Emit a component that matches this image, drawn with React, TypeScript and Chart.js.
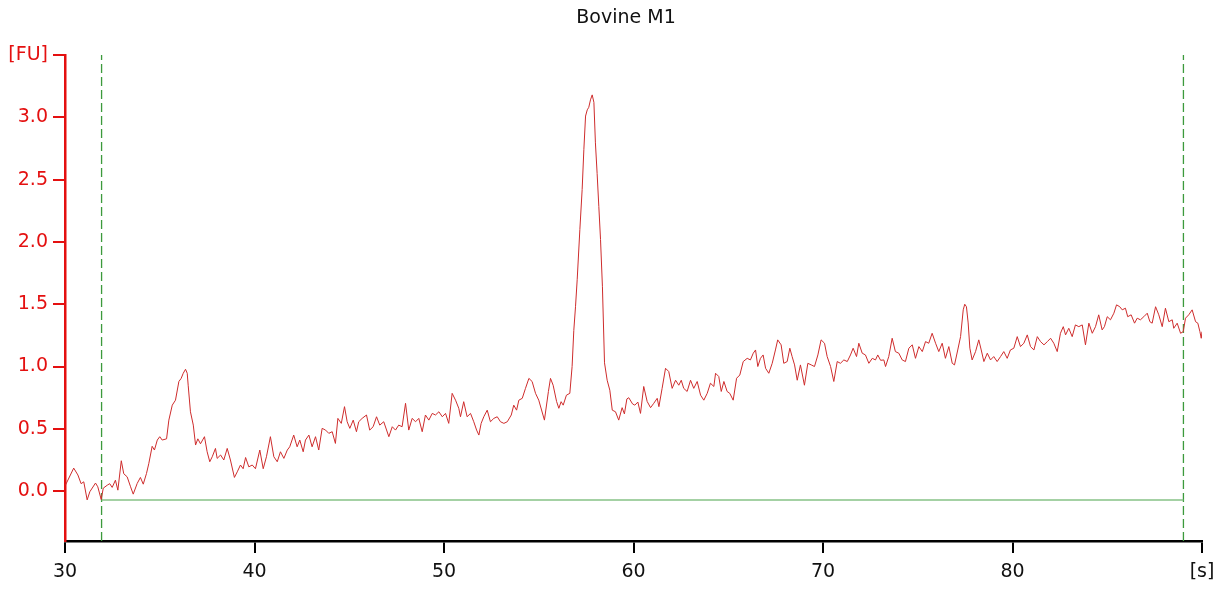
import React, { useEffect, useRef } from "react";
import { Chart, registerables } from "chart.js";

Chart.register(...registerables);

const chartTitle = "Bovine M1";

const timeSec = [
  30.03, 30.46, 30.68, 30.85, 30.99, 31.17, 31.31, 31.61, 31.73, 31.91, 32.02, 32.23, 32.36, 32.49, 32.66, 32.79,
  32.97, 33.1, 33.28, 33.46, 33.6, 33.81, 33.98, 34.13, 34.3, 34.42, 34.6, 34.72, 34.87, 35.0, 35.13, 35.36,
  35.48, 35.66, 35.83, 36.01, 36.13, 36.24, 36.36, 36.45, 36.5, 36.62, 36.77, 36.89, 37.01, 37.15, 37.36, 37.5,
  37.64, 37.77, 37.94, 38.03, 38.21, 38.38, 38.56, 38.73, 38.94, 39.09, 39.26, 39.4, 39.53, 39.7, 39.88, 40.05,
  40.28, 40.46, 40.63, 40.84, 41.02, 41.2, 41.37, 41.55, 41.73, 41.86, 42.07, 42.25, 42.39, 42.57, 42.69, 42.87,
  43.04, 43.22, 43.39, 43.57, 43.75, 43.92, 44.1, 44.27, 44.4, 44.58, 44.75, 44.89, 45.03, 45.21, 45.38, 45.5,
  45.68, 45.91, 46.08, 46.26, 46.44, 46.61, 46.82, 47.09, 47.27, 47.44, 47.61, 47.79, 47.97, 48.14, 48.32, 48.5,
  48.67, 48.85, 49.02, 49.2, 49.38, 49.55, 49.73, 49.91, 50.08, 50.25, 50.43, 50.61, 50.78, 50.87, 51.04, 51.22,
  51.4, 51.57, 51.72, 51.84, 51.96, 52.1, 52.28, 52.45, 52.63, 52.81, 52.98, 53.16, 53.34, 53.55, 53.68, 53.83,
  53.95, 54.13, 54.3, 54.48, 54.65, 54.83, 55.0, 55.3, 55.51, 55.62, 55.76, 55.94, 56.06, 56.18, 56.29, 56.46,
  56.64, 56.76, 56.85, 56.94, 57.03, 57.17, 57.29, 57.38, 57.47, 57.56, 57.64, 57.73, 57.82, 57.91, 57.99, 58.08,
  58.17, 58.26, 58.36, 58.47, 58.61, 58.75, 58.88, 59.05, 59.22, 59.4, 59.52, 59.65, 59.75, 59.95, 60.07, 60.23,
  60.37, 60.54, 60.72, 60.9, 61.07, 61.25, 61.34, 61.51, 61.69, 61.86, 62.04, 62.22, 62.39, 62.52, 62.65, 62.83,
  63.01, 63.18, 63.36, 63.54, 63.71, 63.89, 64.06, 64.24, 64.33, 64.5, 64.63, 64.77, 64.94, 65.08, 65.26, 65.44,
  65.61, 65.79, 66.0, 66.17, 66.32, 66.44, 66.56, 66.7, 66.84, 66.97, 67.14, 67.32, 67.49, 67.61, 67.79, 67.93,
  68.11, 68.25, 68.37, 68.5, 68.64, 68.81, 69.02, 69.2, 69.38, 69.55, 69.73, 69.9, 70.08, 70.22, 70.4, 70.57,
  70.75, 70.92, 71.1, 71.28, 71.45, 71.59, 71.77, 71.89, 72.07, 72.24, 72.42, 72.6, 72.77, 72.89, 73.04, 73.21,
  73.3, 73.47, 73.65, 73.82, 74.0, 74.18, 74.35, 74.53, 74.71, 74.88, 75.06, 75.24, 75.41, 75.58, 75.76, 75.94,
  76.11, 76.29, 76.46, 76.64, 76.82, 76.94, 77.11, 77.26, 77.4, 77.48, 77.57, 77.66, 77.75, 77.87, 78.05, 78.22,
  78.35, 78.49, 78.67, 78.84, 79.01, 79.19, 79.37, 79.54, 79.72, 79.89, 80.07, 80.25, 80.42, 80.6, 80.78, 80.95,
  81.13, 81.31, 81.48, 81.66, 81.84, 82.01, 82.18, 82.36, 82.53, 82.68, 82.8, 82.97, 83.15, 83.32, 83.5, 83.68,
  83.85, 84.03, 84.21, 84.38, 84.55, 84.73, 84.85, 85.0, 85.17, 85.35, 85.49, 85.66, 85.79, 85.96, 86.08, 86.26,
  86.44, 86.58, 86.75, 86.93, 87.11, 87.25, 87.37, 87.55, 87.72, 87.9, 88.07, 88.25, 88.43, 88.51, 88.69, 88.87,
  89.01, 89.13, 89.3, 89.48, 89.66, 89.78, 89.89, 89.96, 90.0,
];

const signalFU = [
  0.05, 0.185, 0.13, 0.06, 0.075, -0.07, -0.005, 0.065, 0.035, -0.067, 0.024, 0.048, 0.06, 0.03, 0.088, 0.008,
  0.244, 0.14, 0.115, 0.035, -0.024, 0.062, 0.11, 0.056, 0.142, 0.22, 0.36, 0.33, 0.41, 0.437, 0.41, 0.42,
  0.57, 0.69, 0.73, 0.88, 0.905, 0.946, 0.978, 0.946, 0.85, 0.637, 0.53, 0.37, 0.42, 0.38, 0.437, 0.316,
  0.236, 0.276, 0.343, 0.263, 0.29, 0.25, 0.343, 0.25, 0.11, 0.155, 0.21, 0.18, 0.27, 0.195, 0.21, 0.18,
  0.33, 0.18, 0.276, 0.437, 0.276, 0.236, 0.316, 0.263, 0.33, 0.356, 0.45, 0.356, 0.41, 0.316, 0.41, 0.45,
  0.356, 0.437, 0.33, 0.504, 0.49, 0.464, 0.477, 0.383, 0.584, 0.544, 0.678, 0.557, 0.504, 0.57, 0.477, 0.557,
  0.584, 0.611, 0.49, 0.517, 0.597, 0.53, 0.557, 0.437, 0.517, 0.49, 0.53, 0.517, 0.705, 0.49, 0.584, 0.557,
  0.584, 0.477, 0.611, 0.57, 0.624, 0.611, 0.637, 0.597, 0.624, 0.544, 0.785, 0.73, 0.665, 0.597, 0.718, 0.597,
  0.624, 0.557, 0.49, 0.45, 0.544, 0.597, 0.65, 0.557, 0.584, 0.597, 0.557, 0.544, 0.557, 0.611, 0.69, 0.65,
  0.73, 0.745, 0.825, 0.905, 0.88, 0.785, 0.73, 0.57, 0.8, 0.905, 0.85, 0.72, 0.665, 0.718, 0.69, 0.77,
  0.785, 1.0, 1.29, 1.48, 1.7, 2.1, 2.42, 2.74, 3.01, 3.06, 3.08, 3.14, 3.18, 3.12, 2.795, 2.55,
  2.285, 2.02, 1.64, 1.03, 0.89, 0.81, 0.65, 0.637, 0.57, 0.67, 0.62, 0.74, 0.75, 0.7, 0.69, 0.715,
  0.624, 0.84, 0.72, 0.67, 0.705, 0.745, 0.678, 0.825, 0.986, 0.96, 0.825, 0.89, 0.85, 0.89, 0.825, 0.8,
  0.89, 0.825, 0.88, 0.77, 0.73, 0.785, 0.866, 0.84, 0.946, 0.92, 0.8, 0.88, 0.8, 0.785, 0.73, 0.906,
  0.932, 1.04, 1.066, 1.053, 1.107, 1.133, 1.0, 1.066, 1.093, 0.986, 0.946, 1.026, 1.133, 1.214, 1.174, 1.026,
  1.04, 1.147, 1.08, 1.013, 0.89, 1.013, 0.85, 1.026, 1.013, 1.0, 1.093, 1.214, 1.187, 1.08, 1.0, 0.88,
  1.04, 1.026, 1.053, 1.04, 1.093, 1.147, 1.08, 1.187, 1.107, 1.093, 1.026, 1.066, 1.053, 1.093, 1.05, 1.053,
  1.0, 1.08, 1.227, 1.12, 1.107, 1.053, 1.04, 1.147, 1.174, 1.066, 1.16, 1.12, 1.2, 1.187, 1.267, 1.187,
  1.12, 1.187, 1.066, 1.16, 1.026, 1.013, 1.133, 1.24, 1.455, 1.5, 1.48, 1.35, 1.147, 1.053, 1.12, 1.214,
  1.133, 1.04, 1.107, 1.053, 1.08, 1.04, 1.08, 1.12, 1.066, 1.133, 1.147, 1.24, 1.16, 1.187, 1.254, 1.16,
  1.133, 1.24, 1.2, 1.174, 1.2, 1.227, 1.187, 1.12, 1.267, 1.32, 1.254, 1.307, 1.24, 1.334, 1.32, 1.334,
  1.174, 1.348, 1.267, 1.32, 1.415, 1.294, 1.32, 1.4, 1.375, 1.428, 1.495, 1.48, 1.455, 1.468, 1.4, 1.415,
  1.348, 1.388, 1.375, 1.4, 1.428, 1.36, 1.348, 1.48, 1.415, 1.32, 1.468, 1.36, 1.375, 1.307, 1.348, 1.267,
  1.28, 1.388, 1.415, 1.455, 1.36, 1.348, 1.28, 1.227, 1.28,
];

// Analysis window markers (seconds) and baseline level (FU)
const windowStartSec = 31.93;
const windowEndSec = 89.02;
const baselineFU = -0.07;

const xTickValues = [30, 40, 50, 60, 70, 80, 90];
const yTickValues = [0, 0.5, 1, 1.5, 2, 2.5, 3, 3.5];
const xUnitLabel = "[s]";
const yUnitLabel = "[FU]";

const xMin = 30;
const xMax = 90;
const yMin = -0.4;
const yMax = 3.5;

const FONT = "'DejaVu Sans', Verdana, sans-serif";
const RED = "#e41010";
const DASH_GREEN = "#3c9a3c";

const titlePlugin = {
  id: "centerTitle",
  afterDraw(chart: any) {
    const ctx = chart.ctx;
    ctx.save();
    ctx.font = `19px ${FONT}`;
    ctx.fillStyle = "#111";
    ctx.textAlign = "center";
    ctx.textBaseline = "middle";
    ctx.fillText(chartTitle, 618, 10);
    ctx.restore();
  },
};

export default function App() {
  const canvasRef = useRef<HTMLCanvasElement | null>(null);

  useEffect(() => {
    if (!canvasRef.current) return;
    const trace = timeSec.map((t, i) => ({ x: t, y: signalFU[i] }));
    const chart = new Chart(canvasRef.current, {
      type: "scatter",
      data: {
        datasets: [
          {
            data: trace,
            showLine: true,
            borderColor: "rgb(206,44,44)",
            borderWidth: 1,
            pointRadius: 0,
            tension: 0,
          },
          {
            data: [
              { x: windowStartSec, y: baselineFU },
              { x: windowEndSec, y: baselineFU },
            ],
            showLine: true,
            borderColor: "#86c286",
            borderWidth: 1.5,
            pointRadius: 0,
          },
          {
            data: [
              { x: windowStartSec, y: yMin },
              { x: windowStartSec, y: yMax },
            ],
            showLine: true,
            borderColor: DASH_GREEN,
            borderWidth: 1.3,
            borderDash: [9, 4],
            pointRadius: 0,
          },
          {
            data: [
              { x: windowEndSec, y: yMin },
              { x: windowEndSec, y: yMax },
            ],
            showLine: true,
            borderColor: DASH_GREEN,
            borderWidth: 1.3,
            borderDash: [9, 4],
            pointRadius: 0,
          },
        ],
      },
      plugins: [titlePlugin],
      options: {
        animation: false,
        responsive: false,
        layout: { padding: { left: 0, right: 0, top: 47, bottom: 0 } },
        plugins: {
          legend: { display: false },
          tooltip: { enabled: false },
          title: { display: false },
        },
        scales: {
          x: {
            type: "linear",
            min: xMin,
            max: xMax,
            afterBuildTicks: (s: any) => {
              s.ticks = xTickValues.map((v) => ({ value: v }));
            },
            afterFit: (s: any) => {
              s.height = 41;
              s.paddingRight = 14;
              s.paddingLeft = 0;
            },
            grid: {
              drawOnChartArea: false,
              drawTicks: true,
              tickLength: 12,
              color: "#000",
              lineWidth: 2,
            },
            border: { color: "#000", width: 2.5 },
            ticks: {
              color: "#111",
              font: { family: FONT, size: 19 },
              padding: 8,
              maxRotation: 0,
              autoSkip: false,
              callback: (v: any) => (Number(v) === 90 ? xUnitLabel : String(v)),
            },
          },
          y: {
            type: "linear",
            min: yMin,
            max: yMax,
            afterBuildTicks: (s: any) => {
              s.ticks = yTickValues.map((v) => ({ value: v }));
            },
            afterFit: (s: any) => {
              s.width = 57;
              s.paddingTop = 0;
              s.paddingBottom = 0;
            },
            grid: {
              drawOnChartArea: false,
              drawTicks: true,
              tickLength: 12,
              color: RED,
              lineWidth: 2,
            },
            border: { color: RED, width: 2.5 },
            ticks: {
              color: RED,
              font: { family: FONT, size: 19 },
              padding: 5,
              autoSkip: false,
              callback: (v: any) => (Number(v) === 3.5 ? yUnitLabel : Number(v).toFixed(1)),
            },
          },
        },
      },
    });
    return () => chart.destroy();
  }, []);

  return (
    <div style={{ width: 1208, height: 574 }}>
      <canvas ref={canvasRef} width={1208} height={574} style={{ display: "block" }} />
    </div>
  );
}
